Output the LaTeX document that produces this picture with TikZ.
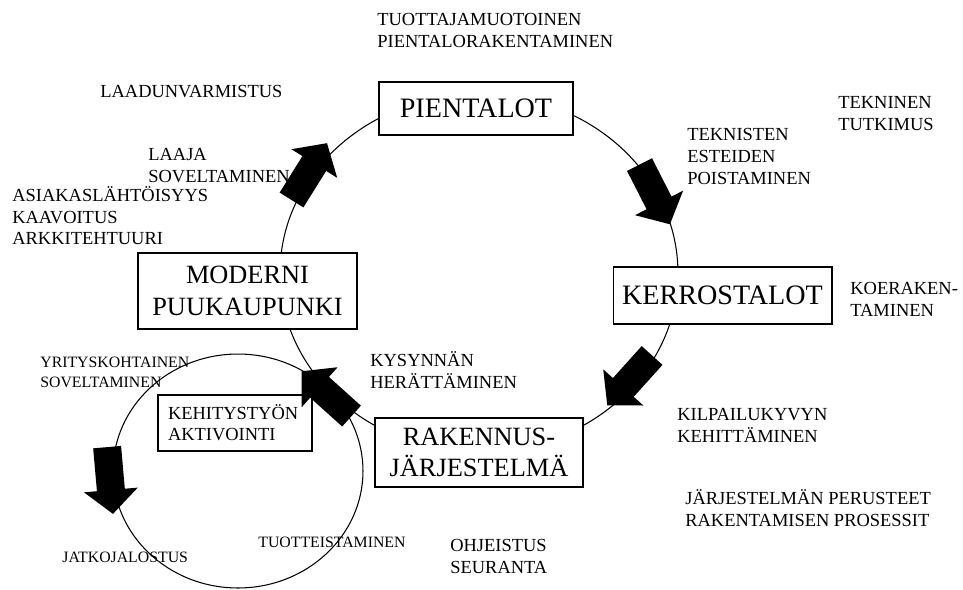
\documentclass[tikz,border=0pt]{standalone}
\usepackage{fontspec}
\setmainfont{Liberation Serif}

\tikzset{
  box/.style={draw, fill=white, line width=0.6pt, inner sep=0pt, align=center},
  bigtext/.style={font=\fontsize{16}{19}\selectfont},
  midtext/.style={font=\fontsize{15}{18}\selectfont},
  lbl/.style={anchor=north west, inner sep=0pt, align=left, font=\fontsize{10.5}{12.4}\selectfont},
  smalllbl/.style={lbl, font=\fontsize{9}{11.3}\selectfont},
  pics/fatarrow/.style={code={
    \fill (-33,-14) -- (10,-14) -- (10,-27) -- (34,0) -- (10,27) -- (10,14) -- (-33,14) -- cycle;
  }}
}

\begin{document}
\begin{tikzpicture}[x=0.02cm, y=-0.02cm]
    \useasboundingbox (0,0) rectangle (963,589);

    % the two cycles
    \draw[line width=0.6pt] (479,273) ellipse [x radius=3.98cm, y radius=3.58cm];
    \draw[line width=0.6pt] (238,471) ellipse [x radius=2.5cm, y radius=2.34cm];

    % boxes on the cycles
    \node[box, bigtext, minimum width=3.88cm, minimum height=1.06cm] (pientalot) at (476,108.5) {PIENTALOT};
    \node[box, midtext, minimum width=4.38cm, minimum height=1.52cm] (moderni) at (247.5,291) {MODERNI\\PUUKAUPUNKI};
    \node[box, bigtext, minimum width=4.38cm, minimum height=1.14cm] (kerros) at (722.5,295.5) {KERROSTALOT};
    \node[box, midtext, minimum width=4.16cm, minimum height=1.38cm] (rakennus) at (479,452.5) {RAKENNUS-\\JÄRJESTELMÄ};
    \node[box, align=left, text width=2.68cm, inner xsep=0.2cm, minimum height=1.12cm,
          font=\fontsize{10.5}{12}\selectfont] (kehitys) at (235,423) {KEHITYSTYÖN\\AKTIVOINTI};

    % block arrows along the cycles
    \pic (upleft) [rotate=58] at (309,172) {fatarrow};
    \pic (upright) [rotate=-63] at (654.5,194) {fatarrow};
    \pic (downright) [rotate=-132] at (630,380) {fatarrow};
    \pic (downleft) [rotate=138] at (327,394) {fatarrow};
    \pic (small) [rotate=-85] at (110,480) {fatarrow};

    % labels
    \node[lbl] (tuottaja) at (377,13) {TUOTTAJAMUOTOINEN\\PIENTALORAKENTAMINEN};
    \node[lbl] (laatu) at (100,85) {LAADUNVARMISTUS};
    \node[lbl] (tekninen) at (838,96) {TEKNINEN\\TUTKIMUS};
    \node[lbl] (laaja) at (148,148) {LAAJA\\SOVELTAMINEN};
    \node[lbl] (esteet) at (687,128) {TEKNISTEN\\ESTEIDEN\\POISTAMINEN};
    \node[lbl] (asiakas) at (12,186) {ASIAKASLÄHTÖISYYS\\KAAVOITUS\\ARKKITEHTUURI};
    \node[lbl] (koe) at (850,282) {KOERAKEN-\\TAMINEN};
    \node[smalllbl] (yritys) at (40,357) {YRITYSKOHTAINEN\\SOVELTAMINEN};
    \node[lbl] (kysynta) at (370,351) {KYSYNNÄN\\HERÄTTÄMINEN};
    \node[lbl] (kilpailu) at (677,408) {KILPAILUKYVYN\\KEHITTÄMINEN};
    \node[lbl] (perusteet) at (685,489) {JÄRJESTELMÄN PERUSTEET\\RAKENTAMISEN PROSESSIT};
    \node[smalllbl] (tuotteistus) at (258,537) {TUOTTEISTAMINEN};
    \node[smalllbl] (jatko) at (62,552) {JATKOJALOSTUS};
    \node[lbl] (ohjeistus) at (450,539) {OHJEISTUS\\SEURANTA};
\end{tikzpicture}
\end{document}
